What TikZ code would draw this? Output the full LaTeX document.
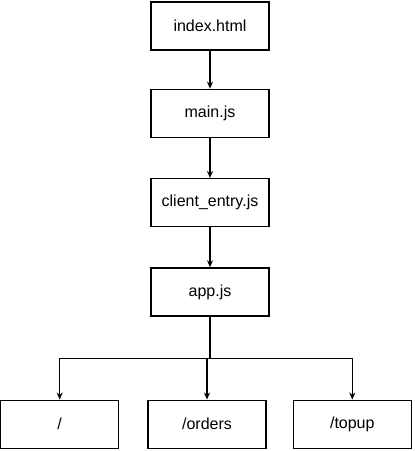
\documentclass[tikz,border=0pt]{standalone}
\usepackage{fontspec}
\setmainfont{Liberation Sans}
\usetikzlibrary{positioning,arrows.meta}
\begin{document}
\begin{tikzpicture}[node distance=38pt, every node/.style={align=center, font=\fontsize{16}{19}\selectfont}]
\useasboundingbox (0,0) rectangle (415pt,-451pt);
\tikzset{filebox/.style={draw, line width=1.3pt, minimum width=118pt, minimum height=48pt, inner sep=0pt},
  flow/.style={-{Stealth[length=7pt,width=6pt,open]}, line width=1.3pt}}
\node (index) [filebox] at (210pt,-26pt) {index.html};
\node (mainjs) [filebox, below=of index] {main.js};
\node (entry) [filebox, below=40pt of mainjs] {client\_entry.js};
\node (app) [filebox, below=40pt of entry] {app.js};
\node (orders) [filebox, below=83pt of app, xshift=-3pt] {/orders};
\node (root) [filebox, left=28pt of orders] {/};
\node (topup) [filebox, right=26pt of orders] {/topup};

\draw[flow] (index) -- (mainjs);
\draw[flow] (mainjs) -- (entry);
\draw[flow] (entry) -- (app);
\coordinate (bus) at ([yshift=-42pt]app.south);
\draw[line width=1.3pt] (app.south) -- (bus);
\draw[flow] (bus) -| (root.north);
\draw[flow] (bus) -| ([xshift=0pt]orders.north);
\draw[flow] (bus) -| (topup.north);
\end{tikzpicture}
\end{document}
